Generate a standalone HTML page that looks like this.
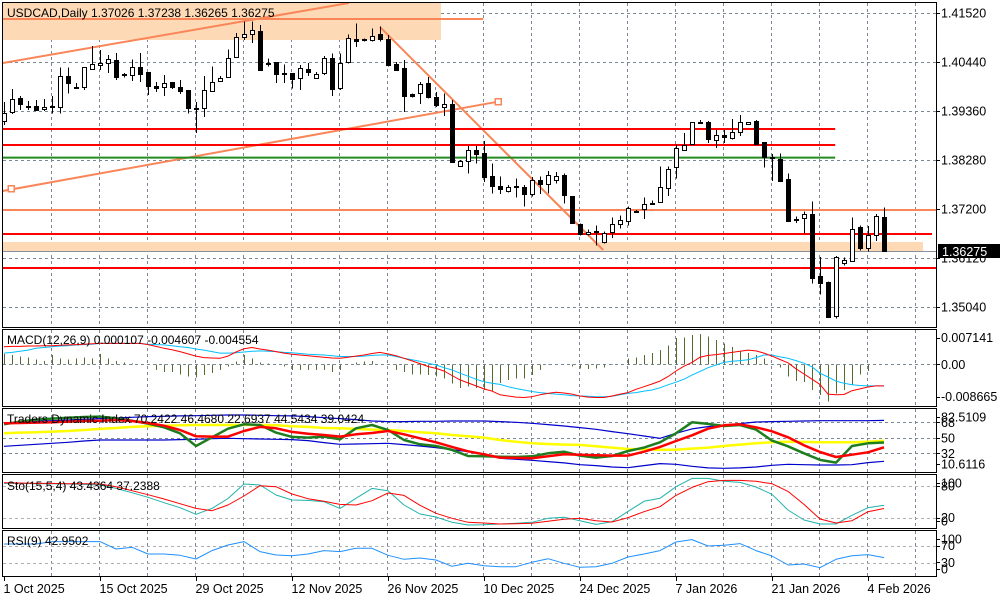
<!DOCTYPE html>
<html><head><meta charset="utf-8"><title>USDCAD Daily</title>
<style>
html,body{margin:0;padding:0;background:#fff;}
svg{display:block;font-family:"Liberation Sans",sans-serif;}
</style></head>
<body>
<svg id="chart" width="1000" height="600" viewBox="0 0 1000 600" xmlns="http://www.w3.org/2000/svg" shape-rendering="crispEdges">
<defs>
<clipPath id="cMain"><rect x="3" y="3" width="933" height="324"/></clipPath>
<clipPath id="cMacd"><rect x="3" y="330" width="933" height="76"/></clipPath>
<clipPath id="cTdi"><rect x="3" y="409" width="933" height="63"/></clipPath>
<clipPath id="cSto"><rect x="3" y="475" width="933" height="53"/></clipPath>
<clipPath id="cRsi"><rect x="3" y="531" width="933" height="45"/></clipPath>
</defs>
<g id="grid"></g>
<g id="objects" clip-path="url(#cMain)"></g>
<g id="candles" clip-path="url(#cMain)"></g>
<g id="macd" clip-path="url(#cMacd)"></g>
<g id="tdi" clip-path="url(#cTdi)"></g>
<g id="sto" clip-path="url(#cSto)"></g>
<g id="rsi" clip-path="url(#cRsi)"></g>
<g id="frames" fill="none" stroke="#000" stroke-width="1">
<rect x="2.5" y="2.5" width="934" height="325"/>
<rect x="2.5" y="329.5" width="934" height="77"/>
<rect x="2.5" y="408.5" width="934" height="64"/>
<rect x="2.5" y="474.5" width="934" height="54"/>
<rect x="2.5" y="530.5" width="934" height="46"/>
</g>
<g id="axes" font-size="12.5" fill="#000"></g>
<g font-size="12" fill="#000">
<text x="7" y="17">USDCAD,Daily  1.37026 1.37238 1.36265 1.36275</text>
<text x="7" y="344">MACD(12,26,9) 0.000107 -0.004607 -0.004554</text>
<text x="7" y="423">Traders Dynamic Index 70.2422 46.4680 22.6937 44.5434 39.0424</text>
<text x="7" y="490">Sto(15,5,4) 43.4364 37.2388</text>
<text x="7" y="545">RSI(9) 42.9502</text>
</g>
</svg>
<script>
const opens=[1.3914,1.3934,1.3964,1.3948,1.3948,1.3940,1.3947,1.3945,1.4014,1.3988,1.3988,1.4029,1.4037,1.4041,1.4048,1.4017,1.4017,1.4034,1.4021,1.3990,1.3988,1.3999,1.3988,1.3982,1.3943,1.3943,1.3980,1.4003,1.4011,1.4053,1.4098,1.4105,1.4112,1.4042,1.4044,1.4020,1.4020,1.4008,1.4028,1.4008,1.4019,1.4052,1.3986,1.4042,1.4094,1.4094,1.4094,1.4105,1.4094,1.4039,1.4030,1.3973,1.3975,1.3997,1.3966,1.3945,1.3951,1.3815,1.3826,1.3851,1.3843,1.3792,1.3770,1.3759,1.3770,1.3768,1.3754,1.3784,1.3776,1.3784,1.3795,1.3748,1.3688,1.3666,1.3671,1.3648,1.3668,1.3686,1.3694,1.3716,1.3718,1.3733,1.3736,1.3768,1.3812,1.3851,1.3862,1.3912,1.3911,1.3873,1.3883,1.3876,1.3889,1.3906,1.3914,1.3867,1.3834,1.3831,1.3786,1.3699,1.3699,1.3709,1.3572,1.3560,1.3483,1.3600,1.3607,1.3681,1.3634,1.3662,1.37026];
const highs=[1.3956,1.3984,1.3969,1.3958,1.3960,1.3962,1.3969,1.4032,1.4032,1.3998,1.4032,1.4079,1.4070,1.4059,1.4064,1.4020,1.4050,1.4064,1.4021,1.4000,1.4015,1.3999,1.4004,1.3982,1.3956,1.4013,1.4034,1.4013,1.4072,1.4108,1.4133,1.4133,1.4125,1.4052,1.4044,1.4039,1.4020,1.4037,1.4042,1.4022,1.4057,1.4063,1.4063,1.4105,1.4129,1.4096,1.4118,1.4122,1.4103,1.4044,1.4048,1.3975,1.4000,1.4011,1.3978,1.3975,1.3960,1.3828,1.3859,1.3859,1.3870,1.3820,1.3792,1.3773,1.3787,1.3773,1.3790,1.3792,1.3804,1.3802,1.3798,1.3748,1.3688,1.3675,1.3684,1.3670,1.3701,1.3706,1.3726,1.3718,1.3745,1.3739,1.3814,1.3814,1.3862,1.3888,1.3911,1.3916,1.3914,1.3894,1.3894,1.3918,1.3927,1.3911,1.3916,1.3867,1.3841,1.3842,1.3798,1.3703,1.3715,1.3737,1.3614,1.3560,1.3616,1.3613,1.3701,1.3684,1.3682,1.3709,1.37238];
const lows=[1.3905,1.3929,1.3938,1.3938,1.3936,1.3936,1.3931,1.3931,1.3975,1.3986,1.3982,1.4026,1.4026,1.4020,1.4004,1.4010,1.4002,1.4000,1.3971,1.3978,1.3969,1.3984,1.3973,1.3931,1.3887,1.3923,1.3978,1.4000,1.4010,1.4053,1.4092,1.4086,1.4026,1.4034,1.3998,1.3998,1.3986,1.3982,1.4013,1.4008,1.4015,1.3969,1.3982,1.4041,1.4077,1.4089,1.4089,1.4089,1.4034,1.4026,1.3934,1.3966,1.3951,1.3964,1.3945,1.3925,1.3822,1.3815,1.3798,1.3820,1.3780,1.3754,1.3753,1.3756,1.3745,1.3726,1.3747,1.3753,1.3754,1.3776,1.3732,1.3687,1.3662,1.3662,1.3640,1.3644,1.3656,1.3677,1.3684,1.3711,1.3698,1.3729,1.3734,1.3749,1.3787,1.3848,1.3862,1.3909,1.3865,1.3854,1.3865,1.3873,1.3881,1.3906,1.3862,1.3811,1.3782,1.3780,1.3692,1.3689,1.3666,1.3556,1.3532,1.3483,1.3479,1.3596,1.3607,1.3629,1.3626,1.3650,1.36265];
const closes=[1.3932,1.3962,1.3951,1.3945,1.3940,1.3945,1.3945,1.4014,1.3999,1.3986,1.4032,1.4039,1.4041,1.4050,1.4011,1.4014,1.4034,1.4019,1.3991,1.3986,1.3997,1.3987,1.3980,1.3943,1.3942,1.3982,1.4000,1.4009,1.4052,1.4098,1.4105,1.4114,1.4026,1.4039,1.4017,1.4017,1.4006,1.4030,1.4022,1.4017,1.4052,1.3984,1.4041,1.4096,1.4089,1.4091,1.4102,1.4094,1.4037,1.4026,1.3969,1.3969,1.3995,1.3967,1.3948,1.3951,1.3824,1.3826,1.3851,1.3843,1.3791,1.3769,1.3763,1.3768,1.3768,1.3752,1.3784,1.3776,1.3796,1.3792,1.3751,1.3688,1.3666,1.3670,1.3668,1.3668,1.3686,1.3695,1.3723,1.3713,1.3730,1.3732,1.3768,1.3809,1.3854,1.3861,1.3911,1.3911,1.3874,1.3883,1.3878,1.3889,1.3912,1.3911,1.3863,1.3835,1.3832,1.3782,1.3694,1.3696,1.3708,1.3568,1.3557,1.3483,1.3614,1.3607,1.3677,1.3634,1.3662,1.3704,1.36275];

// MACD values in units of 0.001
const macdHist=[2.7,2.5,2.1,1.8,1.3,0.9,2.5,1.6,1.3,1.6,1.8,1.6,2.7,1.6,0.9,0.5,0.2,0,-0.05,-1.5,-2.0,-2.0,-2.7,-3.3,-3.6,-2.9,-2.4,-1.5,-0.6,0.7,2.5,1.6,0.5,0.2,-0.1,-0.6,-1.5,-1.5,-1.5,-1.5,-1.5,-2.0,-1.5,0,0.5,0.7,0.9,0,-0.1,-1.5,-2.0,-2.7,-2.7,-2.9,-3.3,-3.8,-5.1,-6.3,-6.0,-6.4,-6.9,-7.3,-5.0,-4.2,-3.8,-3.8,-2.9,-1.5,-0.2,0,0,-0.6,-1.1,-1.3,-1.1,-0.9,-0.2,0,1.6,1.8,2.5,3.0,3.8,5.0,7.0,7.2,7.9,8.1,7.4,6.5,5.6,4.7,3.4,3.0,2.5,1.6,0,-0.9,-3.3,-4.5,-4.7,-6.9,-8.3,-10.0,-7.8,-6.9,-5.5,-2.7,-1.8,0,0];
const macdRed=[4.7,4.8,4.8,4.9,4.9,5.0,5.0,5.1,5.2,5.3,5.4,5.5,5.6,5.6,5.6,5.6,5.6,5.6,5.3,4.8,4.3,3.9,3.4,2.8,2.2,1.8,1.7,1.6,2.2,3.3,4.2,4.5,4.1,3.8,3.4,3.0,2.7,2.5,2.3,2.1,1.9,1.7,1.6,1.9,2.2,2.5,2.9,3.2,2.8,2.3,1.6,0.9,0.2,-0.6,-1.1,-1.8,-3.0,-4.2,-5.0,-5.8,-6.6,-7.2,-8.2,-8.5,-8.8,-8.9,-8.7,-8.2,-7.8,-7.5,-7.7,-8.0,-8.5,-8.8,-8.9,-8.9,-8.5,-8.0,-7.6,-6.7,-6.0,-5.3,-4.5,-3.3,-1.8,-0.5,0.5,1.9,2.4,2.6,2.9,3.2,3.5,3.8,3.6,3.0,2.2,1.3,0.4,-1.2,-2.6,-4.0,-5.4,-8.0,-8.2,-8.1,-7.1,-6.6,-6.1,-5.8,-5.8];
const macdBlue=[3.0,3.2,3.5,3.8,4.3,4.5,4.7,4.9,5.0,5.2,5.3,5.4,5.6,5.6,5.6,5.6,5.6,5.6,5.4,5.3,5.2,5.0,4.7,4.5,4.1,3.8,3.4,3.0,3.0,3.1,3.3,3.5,3.6,3.5,3.4,3.2,3.1,2.9,2.7,2.6,2.5,2.3,2.1,2.1,2.1,2.2,2.4,2.5,2.5,2.1,1.6,1.2,0.8,0.3,-0.2,-0.9,-1.5,-2.4,-3.2,-4.0,-4.7,-5.1,-5.4,-6.0,-6.5,-6.9,-7.3,-7.6,-7.8,-8.0,-8.2,-8.4,-8.5,-8.6,-8.7,-8.7,-8.6,-8.2,-7.8,-7.6,-7.2,-6.9,-6.3,-5.5,-4.8,-4.0,-2.9,-1.9,-0.9,-0.2,0.5,0.8,1.0,1.2,1.8,2.5,2.5,2.0,1.6,1.0,0.3,-0.7,-2.4,-3.4,-4.5,-5.1,-5.5,-5.7,-5.8,-5.8,-5.8];

// TDI / Stochastic / RSI sampled every 2nd bar (bars 0,2,4,...,110)
const sampleStep=2;
const tdiUpper=[67.2,68.4,69.2,69.9,70.7,71.5,72.3,73.0,73.8,74.6,75.0,75.4,75.7,76.1,76.5,76.5,76.1,75.7,75.4,74.6,73.4,72.3,71.1,69.5,68.8,68.8,69.2,69.2,69.5,69.5,69.5,68.8,68.0,66.8,65.3,63.7,61.8,59.9,57.2,54.8,52.1,49.4,55.2,60.3,63.0,64.9,66.5,68.4,68.8,69.2,69.5,69.9,69.9,69.9,69.9,70.2];
const tdiLower=[40.1,41.3,42.4,43.6,44.8,46.3,47.5,47.5,47.5,47.5,47.5,47.9,48.3,49.0,49.4,49.0,48.6,48.3,47.9,46.7,44.4,42.4,42.8,43.2,43.6,42.1,40.5,38.6,36.3,33.9,30.8,26.2,25.0,23.9,22.3,20.8,18.8,17.7,16.1,15.3,17.7,20.0,19.2,16.9,15.0,14.6,15.0,16.1,18.1,19.2,18.8,18.4,18.4,18.8,21.2,22.7];
const tdiYellow=[55.2,56.0,56.4,57.2,57.9,59.1,60.3,61.4,62.6,63.4,64.1,64.5,64.9,64.9,64.9,64.9,64.9,64.5,63.4,62.6,61.4,61.0,60.3,59.5,59.1,57.9,56.4,55.2,53.3,51.7,50.2,47.5,45.5,43.6,42.8,42.1,41.7,40.1,38.6,37.0,36.6,35.9,36.3,37.4,38.6,40.5,42.1,43.6,44.8,45.5,45.2,44.8,44.8,44.8,45.5,46.5];
const tdiGreen=[65.7,68.8,71.1,72.3,73.4,74.2,74.6,72.6,69.9,66.5,62.2,55.2,40.5,50.6,60.6,65.7,64.9,56.0,51.0,50.2,51.4,48.3,61.0,64.9,59.1,47.5,42.4,40.5,35.9,28.9,28.5,28.1,27.7,28.5,32.0,33.9,29.3,27.0,28.9,34.7,38.6,44.8,55.2,68.0,66.1,63.7,64.9,59.5,46.7,40.1,32.0,24.3,21.2,40.5,43.6,44.5];
const tdiRed=[66.8,67.2,67.6,68.0,68.8,69.5,69.9,70.7,69.5,67.2,64.1,59.1,51.7,51.4,51.4,57.9,62.6,61.0,56.8,54.8,53.3,51.4,54.1,55.6,57.9,54.1,49.4,44.8,39.4,34.3,30.8,27.0,26.6,26.2,28.5,30.8,30.4,29.7,29.3,29.3,33.9,39.4,46.3,52.9,60.6,64.5,65.7,62.2,57.5,50.6,41.3,33.5,27.7,30.4,33.2,39.0];
const stochMain=[84.3,84.3,83.7,83.7,83.1,82.4,81.2,74.9,66.8,58.1,48.1,38.7,26.2,37.4,55.9,83.1,81.2,62.4,53.1,52.4,49.9,37.4,56.2,74.9,70.6,43.7,26.8,21.2,11.2,6.2,6.8,8.1,9.3,11.2,18.7,20.6,14.3,7.4,12.4,31.8,50.6,56.2,78.1,93.7,93.7,88.1,86.2,77.4,63.7,34.3,15.6,8.1,8.1,24.3,38.7,43.4];
const stochSignal=[85.6,84.9,84.3,84.3,83.7,83.7,83.1,78.1,70.6,63.1,54.9,46.2,37.4,33.1,43.7,60.6,79.9,78.1,64.3,55.6,50.6,44.9,43.7,51.8,66.2,61.8,43.1,28.1,18.7,11.2,10.0,8.1,8.7,9.3,13.1,16.8,18.7,14.3,11.8,19.9,31.2,40.6,61.8,76.8,87.4,89.9,89.9,88.1,83.7,69.3,44.9,17.4,10.0,14.3,31.2,37.2];
const rsiVals=[75.6,75.6,75.6,81.2,81.2,81.2,81.2,63.6,67.6,51.6,51.6,48.4,39.6,59.6,73.2,81.2,57.2,49.2,47.6,51.6,59.6,57.2,65.2,65.2,48.4,38.8,42.0,37.2,22.0,29.2,23.6,21.2,21.2,31.6,40.4,29.2,19.6,21.2,29.2,44.4,51.6,59.6,80.4,86.0,70.8,72.4,76.4,59.6,46.8,25.2,27.6,18.8,38.8,47.6,50.0,43.0];

const priceTicks=[1.41520,1.40440,1.39360,1.38280,1.37200,1.36120,1.35040];
const dateLabels=["1 Oct 2025","15 Oct 2025","29 Oct 2025","12 Nov 2025","26 Nov 2025","10 Dec 2025","24 Dec 2025","7 Jan 2026","21 Jan 2026","4 Feb 2026"];
const dateBars=[0,12,24,36,48,60,72,84,96,108];
const lastPrice=1.36275;

const NS="http://www.w3.org/2000/svg";
function xBar(i){return 4+8*i;}
function yPrice(p){return 13+(1.4152-p)/0.00022041;}
function yMacd(v){return 364.3-v*3.725;}
function yTdi(v){return 422.3+(68-v)*0.861;}
function ySto(v){return 528.3-v*0.533;}
function yRsi(v){return 575.5-v*0.417;}
function mk(tag,attrs,parent){const e=document.createElementNS(NS,tag);for(const k in attrs)e.setAttribute(k,attrs[k]);parent.appendChild(e);return e;}

const grid=document.getElementById('grid');
const panels=[[3,327],[330,406],[409,472],[475,528],[531,576]];
for(let b=6;b<=114;b+=6){
  const x=Math.round(xBar(b))-0.5;
  panels.forEach(p=>{
    const l=mk('line',{x1:x,x2:x,y1:p[0],y2:p[1],stroke:'#7a8794','stroke-dasharray':'3,3'},grid);
    
    
  });
}
function hgrid(y,color){
  const l=mk('line',{x1:3,x2:936,y1:Math.round(y)+0.5,y2:Math.round(y)+0.5,stroke:color||'#7a8794','stroke-dasharray':'3,3'},grid);
  
  
}
priceTicks.forEach(p=>hgrid(yPrice(p)));
hgrid(yMacd(0));
[68,50,32].forEach(v=>hgrid(yTdi(v)));
[80,20].forEach(v=>hgrid(ySto(v),'#b0b0b0'));
[70,30].forEach(v=>hgrid(yRsi(v),'#b0b0b0'));

// drawing objects (price / bar units)
const obj=document.getElementById('objects');
function seg(b1,p1,b2,p2,color,w,name){
  const l=mk('line',{x1:xBar(b1),y1:yPrice(p1),x2:xBar(b2),y2:yPrice(p2),stroke:color,'stroke-width':w,'shape-rendering':'auto'},obj);
  
  
}
function zone(b1,p1,b2,p2,name){
  const r=mk('rect',{x:xBar(b1),y:yPrice(p1),width:xBar(b2)-xBar(b1),height:yPrice(p2)-yPrice(p1),fill:'#fdd9b5'},obj);
  
  
}
zone(-0.15,1.4174,54.6,1.40925,'resistance-zone');
zone(-0.15,1.36473,114.9,1.36275,'support-zone');
seg(-0.15,1.41388,59.9,1.41388,'#f98558',2,'resistance-line-top');
seg(-0.15,1.40418,43.1,1.4174,'#f98558',2,'channel-upper-trendline');
seg(-0.15,1.37597,61.75,1.39565,'#f98558',2,'channel-lower-trendline');
seg(47,1.41211,74.9,1.36296,'#f98558',2,'descending-trendline');
[[0.9,1.37641],[61.75,1.39565]].forEach(pt=>{
  const r=mk('rect',{x:xBar(pt[0])-3,y:yPrice(pt[1])-3,width:6,height:6,fill:'#fff',stroke:'#f98558','stroke-width':1.5},obj);
  
  
});
seg(-0.15,1.38963,103.9,1.38963,'#ff0000',2,'resistance-line-1');
seg(-0.15,1.38611,103.9,1.38611,'#ff0000',2,'resistance-line-2');
seg(-0.15,1.38331,103.9,1.38331,'#228b22',2,'green-level-line');
seg(-0.15,1.37178,116.6,1.37178,'#f98558',2,'orange-level-line');
seg(-0.15,1.36649,116.0,1.36649,'#ff0000',2,'support-line-1');
seg(-0.15,1.3590,116.6,1.3590,'#ff0000',2,'support-line-2');
const bid=mk('line',{x1:3,x2:938,y1:Math.round(yPrice(lastPrice))+0.5,y2:Math.round(yPrice(lastPrice))+0.5,stroke:'#8a9099'},obj);



// candles
const cg=document.getElementById('candles');
for(let i=0;i<closes.length;i++){
  const x=Math.round(xBar(i))+0.5;
  const w=mk('line',{x1:x,x2:x,y1:yPrice(highs[i]),y2:yPrice(lows[i]),stroke:'#000'},cg);
  
  
  const top=yPrice(Math.max(opens[i],closes[i])),bot=yPrice(Math.min(opens[i],closes[i]));
  const bull=closes[i]>=opens[i];
  const r=mk('rect',{x:x-2,y:Math.round(top)+0.5,width:4,height:Math.max(1,Math.round(bot-top)),fill:bull?'#fff':'#000',stroke:'#000'},cg);
  
  
}

// line helper
function poly(g,vals,step,yf,color,w,name){
  const pts=vals.map((v,k)=>xBar(k*step).toFixed(1)+','+yf(v).toFixed(1)).join(' ');
  const p=mk('polyline',{points:pts,fill:'none',stroke:color,'stroke-width':w,'shape-rendering':'auto','stroke-linejoin':'round'},g);
  
  
}
// MACD
const mg=document.getElementById('macd');
const z0=yMacd(0);
macdHist.forEach((v,i)=>{
  const x=Math.round(xBar(i))+0.5;
  const l=mk('line',{x1:x,x2:x,y1:z0,y2:yMacd(v),stroke:'#556b2f'},mg);
  
  
});
poly(mg,macdBlue,1,yMacd,'#00bfff',1,'macd-signal-line');
poly(mg,macdRed,1,yMacd,'#ff0000',1,'macd-main-line');
// TDI
const tg=document.getElementById('tdi');
poly(tg,tdiUpper,sampleStep,yTdi,'#0000cd',1.2,'tdi-upper-band');
poly(tg,tdiLower,sampleStep,yTdi,'#0000cd',1.2,'tdi-lower-band');
poly(tg,tdiYellow,sampleStep,yTdi,'#ffff00',2.5,'tdi-market-base-line');
poly(tg,tdiGreen,sampleStep,yTdi,'#1e7d1e',2.5,'tdi-rsi-price-line');
poly(tg,tdiRed,sampleStep,yTdi,'#ff0000',2.5,'tdi-trade-signal-line');
// Stoch
const sg=document.getElementById('sto');
poly(sg,stochMain,sampleStep,ySto,'#20b2aa',1,'stochastic-main-line');
poly(sg,stochSignal,sampleStep,ySto,'#ff0000',1,'stochastic-signal-line');
// RSI
const rg=document.getElementById('rsi');
poly(rg,rsiVals,sampleStep,yRsi,'#1e90ff',1,'rsi-line');

// axes labels
const ax=document.getElementById('axes');
function lab(x,y,t,name,fill){
  const e=mk('text',{x:x,y:y,fill:fill||'#000'},ax);
  e.textContent=t;
  
  
  return e;
}
function tick(y){
  const l=mk('line',{x1:936,x2:940,y1:Math.round(y)+0.5,y2:Math.round(y)+0.5,stroke:'#000'},ax);
  
  
}
priceTicks.forEach(p=>{const y=yPrice(p);tick(y);lab(941,y+4.5,p.toFixed(5),'price-axis-label');});
[[0.007141,'0.007141'],[0,'0.00'],[-0.008665,'-0.008665']].forEach(a=>{const y=yMacd(a[0]*1000);tick(y);lab(941,y+4.5,a[1],'macd-axis-label');});
[[82.5109,'82.5109',417],[68,'68',422.3],[50,'50',437.8],[32,'32',453.3],[10.6116,'10.6116',464]].forEach(a=>{tick(a[2]);lab(941,a[2]+4.5,a[1],'tdi-axis-label');});
[[100,'100',483],[80,'80',486],[20,'20',517.7],[0,'0',521]].forEach(a=>{tick(a[2]);lab(941,a[2]+4.5,a[1],'stochastic-axis-label');});
[[100,'100',539],[70,'70',545.5],[30,'30',562.3],[0,'0',569]].forEach(a=>{tick(a[2]);lab(941,a[2]+4.5,a[1],'rsi-axis-label');});
// current price label
const ly=yPrice(lastPrice);
const box=mk('rect',{x:938,y:Math.round(ly)-7,width:62,height:14,fill:'#000'},ax);


lab(942,ly+5,lastPrice.toFixed(5),'current-price-text','#fff');
// date axis
dateBars.forEach((b,k)=>{
  const x=Math.round(xBar(b))+0.5;
  const l=mk('line',{x1:x,x2:x,y1:577,y2:581,stroke:'#000'},ax);
  
  
  lab(x-1,593,dateLabels[k],'date-axis-label');
});
</script>
</body></html>
